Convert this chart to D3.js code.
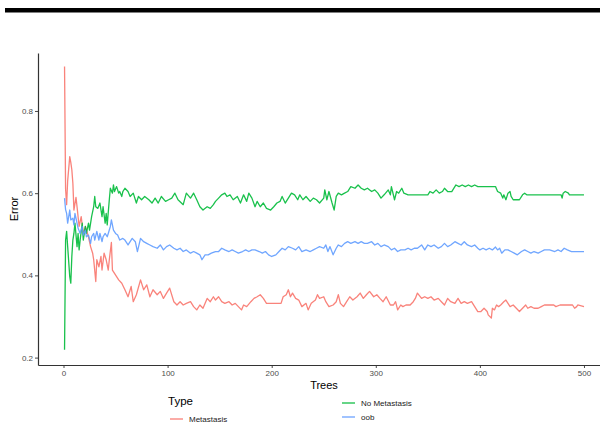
<!DOCTYPE html>
<html>
<head>
<meta charset="utf-8">
<script src="https://cdn.jsdelivr.net/npm/d3@7"></script>
<style>
  body { margin: 0; background: #fff; }
  svg { display: block; font-family: "Liberation Sans", Arial, sans-serif; }
</style>
</head>
<body>
<svg id="chart" width="600" height="427"></svg>
<script>
// Random forest error rate by number of trees
const metTrees = [1,2,3,4,6,7,8,9,10,12,13,15,17,19,21,24,26,28,29,31,32,34,36,37,39,41,43,44,46,47,49,51,53,56,
  59,62,65,67,70,74,77,80,83,86,90,93,96,99,102,106,109,112,115,118,122,125,128,131,134,138,141,144,
  146,149,152,155,159,162,165,168,171,173,176,180,183,186,189,192,195,200,206,209,211,214,216,218,220,223,226,229,
  233,235,238,242,244,246,250,252,255,259,262,264,266,269,272,275,278,282,285,288,291,294,298,301,304,307,310,314,
  317,319,321,324,326,329,333,336,338,340,344,347,350,353,356,360,363,366,369,372,376,379,382,385,388,392,395,398,
  401,404,407,408,411,412,414,416,418,420,423,425,427,429,432,435,438,441,444,446,449,452,456,459,462,467,471,473,477,483,489,491,493,494,500];
const metError = [0.908,0.61,0.572,0.63,0.689,0.675,0.657,0.624,0.559,0.59,0.567,0.519,0.543,0.5,0.519,0.494,0.47,0.454,0.438,0.385,0.438,0.421,0.446,0.413,0.454,0.438,0.413,0.438,0.48,0.413,0.405,0.397,0.389,0.381,
  0.365,0.348,0.373,0.336,0.353,0.389,0.365,0.377,0.348,0.365,0.353,0.361,0.344,0.357,0.369,0.336,0.328,0.336,0.328,0.332,0.336,0.324,0.316,0.328,0.320,0.344,0.336,0.348,
  0.340,0.348,0.336,0.332,0.336,0.328,0.332,0.324,0.316,0.328,0.324,0.336,0.344,0.348,0.353,0.344,0.332,0.332,0.332,0.332,0.348,0.353,0.365,0.348,0.357,0.344,0.340,0.324,
  0.332,0.316,0.332,0.340,0.353,0.344,0.348,0.336,0.324,0.328,0.336,0.353,0.332,0.324,0.336,0.348,0.340,0.348,0.357,0.344,0.353,0.361,0.348,0.353,0.344,0.336,0.348,0.328,
  0.328,0.336,0.316,0.328,0.324,0.328,0.328,0.336,0.344,0.357,0.344,0.348,0.344,0.348,0.340,0.344,0.336,0.328,0.344,0.336,0.332,0.344,0.332,0.336,0.332,0.336,0.324,0.312,
  0.312,0.320,0.312,0.304,0.296,0.320,0.316,0.328,0.324,0.328,0.336,0.340,0.332,0.324,0.328,0.320,0.312,0.320,0.328,0.320,0.324,0.320,0.320,0.324,0.328,0.328,0.328,0.324,0.328,0.328,0.328,0.320,0.324,0.328,0.324];

const noMetTrees = [1,2,3,4,6,7,8,9,10,11,13,14,15,16,18,19,21,22,24,25,27,29,30,31,33,35,37,38,40,41,42,44,45,47,48,49,51,53,54,56,57,59,
  62,64,67,70,72,75,78,82,85,88,91,94,98,101,104,107,110,115,118,122,125,128,131,134,138,141,144,
  146,149,152,155,157,160,163,167,170,173,176,178,181,184,186,189,192,195,199,202,205,208,210,213,216,219,222,225,227,
  230,233,237,240,243,246,250,251,253,255,258,260,262,264,267,270,273,276,280,283,286,289,292,296,299,302,305,308,312,
  314,315,318,320,322,325,327,331,350,352,355,358,361,364,366,369,373,377,380,383,386,389,392,395,398,
  401,415,417,420,422,423,425,427,429,430,432,438,441,443,445,478,479,480,482,485,486,500];
const noMetError = [0.219,0.486,0.507,0.47,0.397,0.381,0.446,0.486,0.502,0.527,0.47,0.502,0.462,0.486,0.527,0.486,0.519,0.502,0.527,0.51,0.543,0.567,0.592,0.567,0.563,0.576,0.543,0.567,0.527,0.551,0.523,0.584,0.612,0.6,0.62,0.604,0.616,0.6,0.604,0.592,0.604,0.612,
  0.604,0.592,0.6,0.576,0.592,0.584,0.592,0.584,0.576,0.588,0.576,0.592,0.580,0.584,0.588,0.6,0.584,0.572,0.6,0.588,0.6,0.584,0.567,0.559,0.567,0.563,0.572,
  0.580,0.588,0.596,0.6,0.592,0.596,0.584,0.592,0.576,0.596,0.580,0.6,0.588,0.567,0.580,0.567,0.576,0.563,0.559,0.567,0.576,0.580,0.592,0.576,0.588,0.6,0.596,0.584,0.596,
  0.584,0.592,0.580,0.588,0.584,0.576,0.588,0.608,0.584,0.604,0.576,0.559,0.592,0.6,0.596,0.6,0.604,0.616,0.612,0.620,0.612,0.608,0.612,0.604,0.608,0.6,0.588,0.596,0.608,
  0.596,0.616,0.584,0.604,0.6,0.612,0.6,0.596,0.596,0.604,0.6,0.608,0.6,0.604,0.612,0.604,0.604,0.620,0.616,0.620,0.616,0.620,0.616,0.620,0.616,
  0.616,0.616,0.604,0.6,0.588,0.596,0.584,0.6,0.604,0.592,0.584,0.584,0.596,0.6,0.596,0.596,0.588,0.6,0.604,0.6,0.596,0.596];

const oobTrees = [1,2,3,4,5,6,7,9,10,11,13,14,16,18,19,21,22,24,26,27,29,30,32,34,35,37,38,40,42,43,45,46,48,50,52,54,57,
  59,62,66,69,71,74,77,80,83,86,90,93,96,99,102,106,109,112,115,118,122,125,128,131,133,136,139,142,146,
  149,152,155,159,162,165,168,172,175,178,181,184,188,191,194,197,200,204,207,210,213,216,220,223,226,229,
  233,237,240,243,246,250,252,254,256,259,262,264,267,270,273,276,280,283,286,289,292,296,299,302,305,308,312,
  315,318,321,324,328,331,334,337,340,344,347,350,353,356,360,363,366,369,372,376,379,382,385,388,392,395,398,
  400,403,406,409,412,415,417,419,421,424,427,430,433,436,440,443,446,449,452,456,459,462,467,472,475,478,481,484,488,492,500];
const oobError = [0.588,0.56,0.551,0.527,0.543,0.559,0.535,0.539,0.523,0.551,0.527,0.515,0.502,0.519,0.498,0.51,0.494,0.498,0.478,0.494,0.502,0.486,0.507,0.486,0.502,0.482,0.494,0.502,0.494,0.502,0.519,0.535,0.51,0.502,0.498,0.486,0.49,
  0.486,0.474,0.490,0.482,0.458,0.490,0.482,0.478,0.474,0.470,0.466,0.474,0.462,0.470,0.474,0.466,0.462,0.466,0.458,0.462,0.454,0.458,0.454,0.450,0.438,0.450,0.450,0.454,0.458,
  0.458,0.466,0.462,0.458,0.462,0.458,0.454,0.458,0.462,0.458,0.462,0.462,0.458,0.454,0.458,0.450,0.446,0.450,0.458,0.466,0.462,0.470,0.466,0.462,0.470,0.458,
  0.462,0.458,0.462,0.466,0.470,0.466,0.474,0.458,0.470,0.450,0.466,0.474,0.470,0.478,0.482,0.478,0.482,0.478,0.482,0.478,0.478,0.482,0.474,0.478,0.470,0.474,0.470,
  0.462,0.466,0.458,0.462,0.462,0.466,0.462,0.466,0.466,0.474,0.462,0.474,0.470,0.474,0.466,0.470,0.478,0.470,0.474,0.482,0.478,0.474,0.482,0.474,0.470,0.474,0.466,
  0.462,0.466,0.462,0.466,0.462,0.469,0.462,0.466,0.454,0.462,0.462,0.458,0.454,0.450,0.458,0.462,0.458,0.454,0.458,0.454,0.458,0.462,0.462,0.458,0.462,0.458,0.466,0.462,0.458,0.458,0.458];

const seriesNames = ["Metastasis", "No Metastasis", "oob"];
const seriesColors = ["#F8766D", "#00BA38", "#619CFF"];
const xTickValues = [0, 100, 200, 300, 400, 500];
const yTickValues = [0.2, 0.4, 0.6, 0.8];

const series = [
  { name: seriesNames[0], color: seriesColors[0], pts: metTrees.map((t, i) => [t, metError[i]]) },
  { name: seriesNames[1], color: seriesColors[1], pts: noMetTrees.map((t, i) => [t, noMetError[i]]) },
  { name: seriesNames[2], color: seriesColors[2], pts: oobTrees.map((t, i) => [t, oobError[i]]) }
];

const svg = d3.select("#chart");

// heavy rule across the top of the figure
svg.append("rect").attr("x", 5).attr("y", 8).attr("width", 595).attr("height", 4.5).attr("fill", "#000");

const x = d3.scaleLinear().domain([-24.5, 525]).range([38, 610]);
const y = d3.scaleLinear().domain([0.182, 0.941]).range([365, 53]);

// series lines
const line = d3.line().x(d => x(d[0])).y(d => y(d[1]));
svg.append("g").selectAll("path").data(series).join("path")
  .attr("d", d => line(d.pts))
  .attr("fill", "none")
  .attr("stroke", d => d.color)
  .attr("stroke-width", 1.3)
  .attr("stroke-opacity", 0.9)
  .attr("stroke-linejoin", "round");

// axes
const yAxis = svg.append("g").attr("transform", "translate(38,0)")
  .call(d3.axisLeft(y).tickValues(yTickValues).tickSize(3).tickSizeOuter(0).tickPadding(2).tickFormat(d3.format(".1f")));
const xAxis = svg.append("g").attr("transform", "translate(0,365)")
  .call(d3.axisBottom(x).tickValues(xTickValues).tickSize(3).tickSizeOuter(0).tickPadding(2));
[yAxis, xAxis].forEach(g => {
  g.select(".domain").attr("stroke", "#333").attr("stroke-width", 1.2);
  g.selectAll(".tick line").attr("stroke", "#333").attr("stroke-width", 0.9);
  g.selectAll(".tick text").attr("fill", "#4D4D4D").style("font-size", "8px")
    .style("font-family", "'Liberation Sans', Arial, sans-serif");
});

// axis titles
svg.append("text").attr("x", 324).attr("y", 389).attr("text-anchor", "middle")
  .style("font-size", "11px").attr("fill", "#000").text("Trees");
svg.append("text").attr("transform", "translate(18,209) rotate(-90)").attr("text-anchor", "middle")
  .style("font-size", "11px").attr("fill", "#000").text("Error");

// legend
const legend = svg.append("g");
legend.append("text").attr("x", 168).attr("y", 405).style("font-size", "11.5px").attr("fill", "#000").text("Type");
const legendPos = [
  { kx: 170, ky: 419 },
  { kx: 342, ky: 403 },
  { kx: 342, ky: 417 }
];
series.forEach((s, i) => {
  const p = legendPos[i];
  legend.append("line").attr("x1", p.kx).attr("x2", p.kx + 13).attr("y1", p.ky).attr("y2", p.ky)
    .attr("stroke", s.color).attr("stroke-width", 1.2);
  legend.append("text").attr("x", p.kx + 19).attr("y", p.ky + 3)
    .style("font-size", "8px").attr("fill", "#1a1a1a").text(s.name);
});
</script>
</body>
</html>
